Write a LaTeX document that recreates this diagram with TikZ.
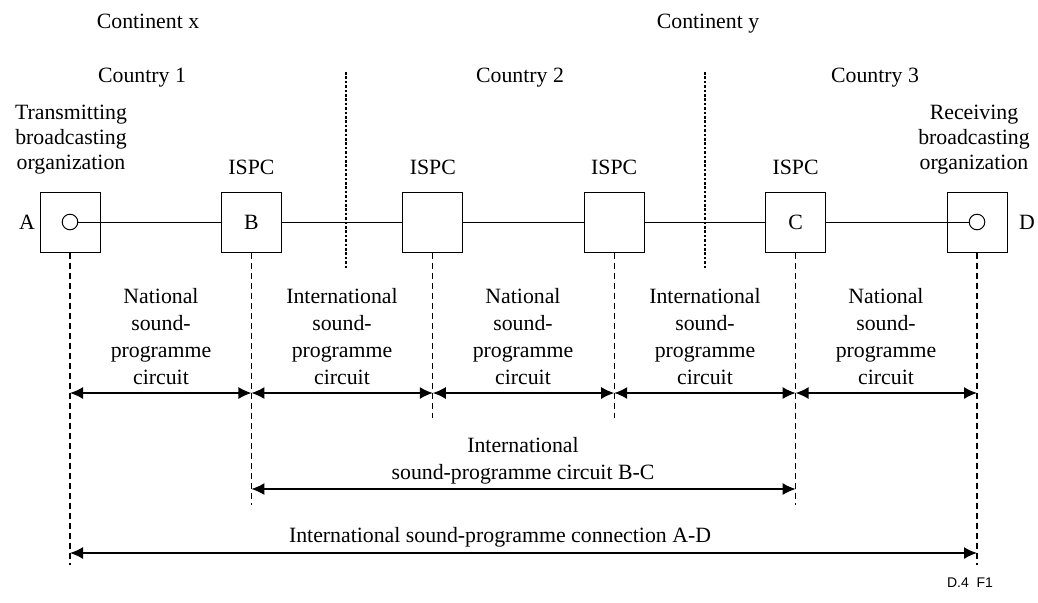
\documentclass[tikz,border=0pt]{standalone}
\usepackage{fontspec}
\setmainfont{Liberation Serif}
\newfontfamily\figfont{Liberation Sans}
\usetikzlibrary{arrows.meta,positioning}

\begin{document}
\begin{tikzpicture}[x=0.5pt,y=-0.5pt,node distance=90.7pt,
        font=\fontsize{10.9}{13.5}\selectfont,
        ispc node/.style={draw,line width=0.5pt,minimum size=30pt,inner sep=0pt},
        end node/.style={draw,circle,line width=0.5pt,minimum size=7.8pt,inner sep=0pt},
        text node/.style={align=center,inner sep=0pt},
        org node/.style={align=center,inner sep=0pt,font=\fontsize{10.9}{12.5}\selectfont},
        guide/.style={dash pattern=on 3pt off 2pt,line width=0.65pt},
        divider/.style={dash pattern=on 1.3pt off 0.9pt,line width=0.6pt},
        span/.style={{Latex[length=6.5pt,width=6pt]}-{Latex[length=6.5pt,width=6pt]},line width=0.7pt}]

    \useasboundingbox (0,0) rectangle (1038,602);

    % Define stations
    \node[ispc node] (A) at (70,222) {};
    \node[ispc node] (B) [right of=A] {B};
    \node[ispc node] (I2) [right of=B] {};
    \node[ispc node] (I3) [right of=I2] {};
    \node[ispc node] (C) [right of=I3] {C};
    \node[ispc node] (D) [right of=C] {};
    \node[end node] (a) at (A) {};
    \node[end node] (d) at (D) {};

    % Labels of stations
    \node[text node] (A label) at (27,222) {A};
    \node[text node] (D label) at (1027,222) {D};
    \foreach \n in {B,I2,I3,C}
        \node[text node,above=8pt of \n] (\n label) {ISPC};
    \node[org node] (tx) at (71,140) {Transmitting\\broadcasting\\organization};
    \node[org node] (rx) at (974,140) {Receiving\\broadcasting\\organization};

    % Continents and countries
    \node[text node,anchor=base] (cont x) at (148,28) {Continent x};
    \node[text node,anchor=base] (cont y) at (708,28) {Continent y};
    \node[text node,anchor=base] (ctry 1) at (142,82) {Country 1};
    \node[text node,anchor=base] (ctry 2) at (520,82) {Country 2};
    \node[text node,anchor=base] (ctry 3) at (875,82) {Country 3};
    \coordinate (div1 top) at (346,72);
    \coordinate (div1 bot) at (346,268);
    \coordinate (div2 top) at (705,72);
    \coordinate (div2 bot) at (705,268);
    \draw[divider] (div1 top) -- (div1 bot);
    \draw[divider] (div2 top) -- (div2 bot);

    % Draw circuit
    \path[draw,line width=0.5pt]
        (a) edge (B)
        (B) edge (I2)
        (I2) edge (I3)
        (I3) edge (C)
        (C) edge (d);

    % Guides
    \foreach \n/\y in {A/565,B/505,I2/418,I3/418,C/505,D/565} {
        \coordinate (\n foot) at (\n |- 0,\y);
        \draw[guide] (\n) -- (\n foot);
    }

    % Spans
    \foreach \p/\q in {A/B,B/I2,I2/I3,I3/C,C/D}
        \draw[span] (\p |- 0,393) -- (\q |- 0,393);
    \draw[span] (B |- 0,489) -- (C |- 0,489);
    \draw[span] (A |- 0,553) -- (D |- 0,553);

    \node[text node] (seg1) at (161,337) {National\\sound-\\programme\\circuit};
    \node[text node] (seg2) at (342,337) {International\\sound-\\programme\\circuit};
    \node[text node] (seg3) at (523,337) {National\\sound-\\programme\\circuit};
    \node[text node] (seg4) at (705,337) {International\\sound-\\programme\\circuit};
    \node[text node] (seg5) at (886,337) {National\\sound-\\programme\\circuit};
    \node[text node] (bc) at (523,461) {International\\sound-programme circuit B-C};
    \node[text node] (ad) at (500,537) {International sound-programme connection A-D};

    \node[text node,font=\figfont\fontsize{7}{8}\selectfont] (fig) at (970,583) {D.4~ F1};

\end{tikzpicture}
\end{document}
